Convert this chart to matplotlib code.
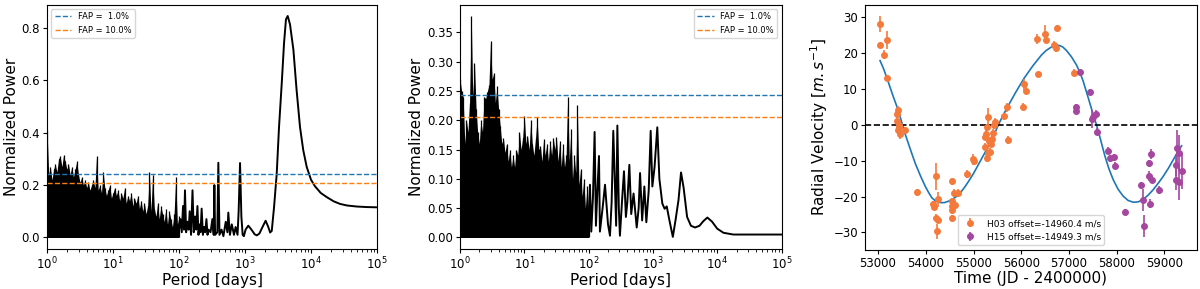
import numpy as np
import matplotlib
matplotlib.use('Agg')
import matplotlib.pyplot as plt

# ---- false alarm levels ----
fap_levels = [1.0, 10.0]
fap_power = [0.243, 0.206]

# ---- periodogram of the RVs (panel 1) ----
# dense part (1 - 100 d): solid floor + individual peaks
p1_env_p = [1.0, 3.0, 10, 30, 60, 100]
p1_env = [0.20, 0.17, 0.13, 0.08, 0.04, 0.0]

p1_spk_p = [1.0, 1.06, 1.12, 1.19, 1.26, 1.33, 1.41, 1.5, 1.58, 1.68, 1.78, 1.88, 2.0, 2.11, 2.24, 2.37,
            2.51, 2.66, 2.82, 2.99, 3.16, 3.35, 3.55, 3.76, 3.98, 4.22, 4.47, 4.73, 5.01, 5.31, 5.62,
            5.96, 6.31, 6.68, 7.08, 7.5, 7.94, 8.41, 8.91, 9.44, 10, 10.6, 11.2, 11.9, 12.6, 13.3, 14.1,
            15, 15.8, 16.8, 17.8, 18.8, 20, 21.1, 22.4, 23.7, 25.1, 26.6, 28.2, 29.9, 31.6, 33.5, 35.5,
            37.6, 39.8, 42.2, 44.7, 47.3, 50.1, 53.1, 56.2, 59.6, 63.1, 66.8, 70.8, 75, 79.4, 84.1, 89.1,
            94.4, 100]
p1_spk = [0.41, 0.24, 0.27, 0.22, 0.26, 0.28, 0.25, 0.30, 0.31, 0.27, 0.315, 0.29, 0.26, 0.28, 0.24, 0.27,
          0.23, 0.26, 0.29, 0.24, 0.21, 0.23, 0.20, 0.22, 0.19, 0.21, 0.18, 0.20, 0.22, 0.19, 0.31,
          0.18, 0.20, 0.17, 0.25, 0.19, 0.16, 0.18, 0.20, 0.15, 0.17, 0.19, 0.16, 0.18, 0.14, 0.17, 0.15,
          0.19, 0.13, 0.16, 0.14, 0.17, 0.12, 0.15, 0.13, 0.16, 0.11, 0.14, 0.10, 0.13, 0.09, 0.12, 0.25,
          0.10, 0.24, 0.11, 0.08, 0.13, 0.07, 0.12, 0.09, 0.06, 0.11, 0.05, 0.10, 0.07, 0.04, 0.09, 0.23,
          0.05, 0.08]

# sparse part (> 100 d)
p1_p = [100, 105, 110, 115, 119, 123, 128, 135, 140, 145, 152, 160, 167, 175, 182, 190, 197, 205, 212,
        220, 230, 240, 250, 260, 270, 280, 300, 320, 335, 343, 352, 380, 394, 410, 440, 470, 510, 540,
        558, 590, 630, 680, 720, 770, 800, 840, 880, 920, 960, 1020, 1120, 1250, 1400, 1510, 1650, 1800,
        2050, 2250, 2400, 2540, 2750, 3020, 3270, 3600, 3900, 4170, 4430, 4800, 5400, 6040, 6800, 7620,
        8600, 10000, 11500, 14000, 17300, 22000, 27500, 35000, 49500, 70000, 100000]
p1_pow = [0.03, 0.07, 0.02, 0.12, 0.03, 0.18, 0.02, 0.06, 0.03, 0.10, 0.01, 0.18, 0.02, 0.08, 0.03, 0.12, 0.01, 0.05, 0.02,
          0.11, 0.01, 0.04, 0.02, 0.07, 0.01, 0.03, 0.02, 0.07, 0.01, 0.20, 0.01, 0.02, 0.285, 0.01, 0.03, 0.005, 0.06, 0.02,
          0.095, 0.01, 0.05, 0.01, 0.04, 0.01, 0.10, 0.284, 0.08, 0.01, 0.005, 0.03, 0.045, 0.03, 0.012, 0.008, 0.015, 0.035,
          0.064, 0.04, 0.019, 0.025, 0.115, 0.243, 0.42, 0.589, 0.742, 0.832, 0.845, 0.813, 0.717, 0.563, 0.422, 0.333,
          0.269, 0.22, 0.195, 0.17, 0.154, 0.138, 0.128, 0.122, 0.118, 0.116, 0.115]

# ---- periodogram of the residuals (panel 2) ----
p2_env_p = [1.0, 2.0, 3.0, 5.0, 10, 30, 60, 80, 100]
p2_env = [0.14, 0.15, 0.16, 0.12, 0.11, 0.10, 0.07, 0.04, 0.0]

p2_spk_p = p1_spk_p
p2_spk = [0.27, 0.25, 0.24, 0.16, 0.20, 0.18, 0.23, 0.378, 0.24, 0.298, 0.22, 0.18, 0.16, 0.20, 0.18, 0.24,
          0.237, 0.249, 0.26, 0.336, 0.27, 0.28, 0.23, 0.258, 0.22, 0.19, 0.16, 0.17, 0.145, 0.16, 0.13,
          0.15, 0.12, 0.14, 0.12, 0.15, 0.14, 0.18, 0.15, 0.17, 0.208, 0.16, 0.174, 0.15, 0.20, 0.16, 0.14,
          0.17, 0.205, 0.15, 0.156, 0.13, 0.168, 0.14, 0.16, 0.13, 0.165, 0.14, 0.17, 0.15, 0.171, 0.13, 0.165,
          0.12, 0.16, 0.12, 0.14, 0.24, 0.13, 0.185, 0.10, 0.14, 0.11, 0.226, 0.09, 0.116, 0.07, 0.10, 0.05,
          0.087, 0.04]

p2_p = [100, 105, 110, 117, 124, 130, 137, 145, 150, 165, 180, 200, 215, 228, 242, 255, 268, 280, 295,
        307, 330, 355, 380, 400, 430, 460, 500, 560, 600, 631, 680, 736, 790, 860, 923, 980, 1060, 1170,
        1260, 1400, 1520, 1640, 1800, 2040, 2250, 2500, 2735, 3000, 3400, 3900, 4520, 5300, 6100, 7030,
        8300, 10000, 12500, 17800, 30000, 100000]
p2_pow = [0.03, 0.09, 0.01, 0.07, 0.18, 0.02, 0.08, 0.139, 0.01, 0.05, 0.09, 0.023, 0.003, 0.06, 0.182, 0.10, 0.02, 0.191, 0.05,
          0.003, 0.06, 0.113, 0.035, 0.06, 0.124, 0.04, 0.075, 0.017, 0.05, 0.11, 0.029, 0.087, 0.026, 0.08, 0.182, 0.087, 0.12, 0.188,
          0.10, 0.058, 0.049, 0.053, 0.03, 0.001, 0.03, 0.064, 0.111, 0.085, 0.035, 0.02, 0.017, 0.02, 0.028, 0.034,
          0.027, 0.015, 0.008, 0.005, 0.005, 0.005]

# ---- radial velocities (panel 3) ----
h03_t = [53042, 53042, 53132, 53195, 53195, 53391, 53425, 53404, 53446, 53425, 53454, 53440, 53565,
         53822, 54157, 54172, 54213, 54249, 54213, 54249, 54241, 54555, 54555, 54555, 54555, 54542,
         54597, 54611, 54667, 54868, 54994, 55010, 55274, 55238, 55307, 55274, 55253, 55238, 55343,
         55358, 55391, 55412, 55427, 55448, 55300, 55320, 55726, 55636, 55692, 56027, 56054, 56096,
         56341, 56320, 56508, 56515, 56682, 56718, 56759, 57100]
h03_v = [28.0, 22.2, 19.5, 23.4, 13.0, 3.0, 4.1, 1.0, 0.0, -1.5, -2.5, -0.8, -1.6,
         -18.8, -22.2, -22.8, -14.4, -20.8, -25.9, -26.4, -29.7, -15.8, -21.3, -22.7, -23.8, -26.1,
         -19.0, -22.4, -19.0, -13.7, -9.7, -10.0, -9.4, -6.2, 2.0, -0.7, -2.5, -3.4, -7.6,
         -5.3, -3.9, -2.2, -0.2, 0.7, -8.0, -4.5, -4.3, 2.3, 4.8, 5.0, 11.2, 9.4,
         14.0, 23.8, 25.2, 23.6, 22.2, 21.3, 27.0, 14.4]
h03_e = [2.2, 0.8, 1.2, 2.5, 0.8, 1.0, 1.2, 1.0, 1.5, 1.0, 1.5, 1.0, 1.0,
         1.0, 1.0, 1.0, 3.7, 2.0, 1.0, 1.0, 2.0, 1.0, 1.0, 1.0, 1.0, 1.0,
         1.0, 1.0, 1.0, 1.2, 1.5, 1.0, 1.0, 1.0, 2.5, 1.0, 1.0, 1.0, 1.0,
         1.0, 1.0, 1.0, 1.0, 1.0, 1.0, 1.0, 1.2, 1.0, 1.2, 1.0, 1.5, 1.0,
         0.5, 1.5, 2.5, 1.0, 1.0, 1.0, 0.6, 1.0]

h15_t = [57226, 57142, 57142, 57435, 57483, 57504, 57575, 57588, 57818, 57854, 57943, 57973, 58167,
         58517, 58550, 58571, 58669, 58711, 58669, 58738, 58705, 58885, 59249, 59249, 59270, 59297,
         59297, 59366]
h15_v = [14.7, 5.0, 3.8, 9.2, 1.6, 2.0, 3.0, -2.0, -7.3, -9.4, -9.1, -11.4, -24.3,
         -16.9, -21.0, -28.2, -10.8, -8.2, -14.3, -15.3, -22.0, -18.2, -11.2, -15.3, -6.6, -8.0,
         -16.1, -13.0]
h15_e = [0.5, 0.6, 0.6, 0.6, 2.5, 1.0, 1.0, 1.0, 1.0, 1.0, 1.0, 1.0, 0.8,
         1.0, 3.0, 3.0, 1.0, 1.5, 1.5, 1.0, 1.2, 1.0, 3.0, 3.0, 5.0, 5.0,
         5.0, 5.0]

model_t = [53042, 53120, 53195, 53300, 53425, 53565, 53680, 53780, 53890, 53990, 54060, 54130, 54210,
           54303, 54390, 54477, 54565, 54653, 54740, 54826, 54910, 55000, 55140, 55260, 55379, 55450,
           55520, 55600, 55700, 55880, 56060, 56240, 56420, 56520, 56610, 56680, 56740, 56800, 56870,
           56948, 57050, 57157, 57225, 57295, 57400, 57504, 57575, 57650, 57752, 57840, 57926, 58030,
           58135, 58240, 58347, 58450, 58556, 58660, 58765, 58870, 58974, 59080, 59184, 59270, 59360]
model_v = [17.8, 15.4, 12.6, 8.5, 3.9, -2.5, -7.0, -10.8, -14.3, -17.2, -18.9, -20.4, -21.3,
           -21.7, -21.7, -21.3, -20.7, -19.9, -18.7, -17.2, -15.5, -13.6, -10.2, -7.3, -4.3, -2.2,
           -0.1, 2.1, 4.6, 8.9, 12.9, 16.3, 19.3, 20.6, 21.4, 21.9, 22.1, 22.0, 21.6,
           20.6, 18.9, 16.6, 14.6, 12.2, 7.6, 3.0, 0.0, -3.6, -8.7, -12.4, -15.3, -18.0,
           -19.9, -21.1, -21.6, -21.5, -20.8, -19.6, -18.1, -16.3, -14.4, -12.2, -9.8, -7.8, -5.9]

h03_label = 'H03 offset=-14960.4 m/s'
h15_label = 'H15 offset=-14949.3 m/s'

fig = plt.figure(figsize=(12, 2.89), dpi=100)
ax1 = fig.add_axes([0.0392, 0.140, 0.275, 0.843])
ax2 = fig.add_axes([0.3833, 0.140, 0.268, 0.843])
ax3 = fig.add_axes([0.7208, 0.136, 0.2767, 0.847])

fap_colors = ['tab:blue', 'tab:orange']


def periodogram(ax, env_p, env, spk_p, spk, p, pw, legend_loc):
    # dense forest of peaks: solid body with a ragged top
    ax.fill_between(env_p, 0, env, color='k', lw=0)
    ax.fill_between(spk_p, 0, spk, color='k', lw=0)
    ax.vlines(spk_p, 0, spk, color='k', lw=0.9)
    ax.plot(p, pw, color='k', lw=1.4)
    for lev, pw_lev, c in zip(fap_levels, fap_power, fap_colors):
        ax.axhline(pw_lev, ls='--', color=c, lw=1.0, label='FAP = %4.1f%%' % lev)
    ax.set_xscale('log')
    ax.set_xlim(1, 1e5)
    ax.set_xlabel('Period [days]', fontsize=11, labelpad=1)
    ax.set_ylabel('Normalized Power', fontsize=11, labelpad=2)
    ax.tick_params(labelsize=8.5, length=3, pad=2)
    ax.tick_params(which='minor', length=1.8)
    ax.legend(loc=legend_loc, fontsize=6)


periodogram(ax1, p1_env_p, p1_env, p1_spk_p, p1_spk, p1_p, p1_pow, 'upper left')
periodogram(ax2, p2_env_p, p2_env, p2_spk_p, p2_spk, p2_p, p2_pow, 'upper right')

ax3.plot(model_t, model_v, color='tab:blue', lw=1.2)
ax3.axhline(0, ls='--', color='k', lw=1.2)
ax3.errorbar(h03_t, h03_v, yerr=h03_e, fmt='o', color='#f47a3c', ms=4, lw=1.2, label=h03_label)
ax3.errorbar(h15_t, h15_v, yerr=h15_e, fmt='o', color='#a5479f', ms=4, lw=1.2, label=h15_label)
ax3.set_xlabel('Time (JD - 2400000)', fontsize=11, labelpad=1)
ax3.set_ylabel('Radial Velocity [$m.s^{-1}$]', fontsize=11, labelpad=2)
ax3.tick_params(labelsize=8.5, length=3, pad=2)
ax3.legend(loc='lower center', fontsize=6.5)

fig.savefig('out.png', dpi=100)
